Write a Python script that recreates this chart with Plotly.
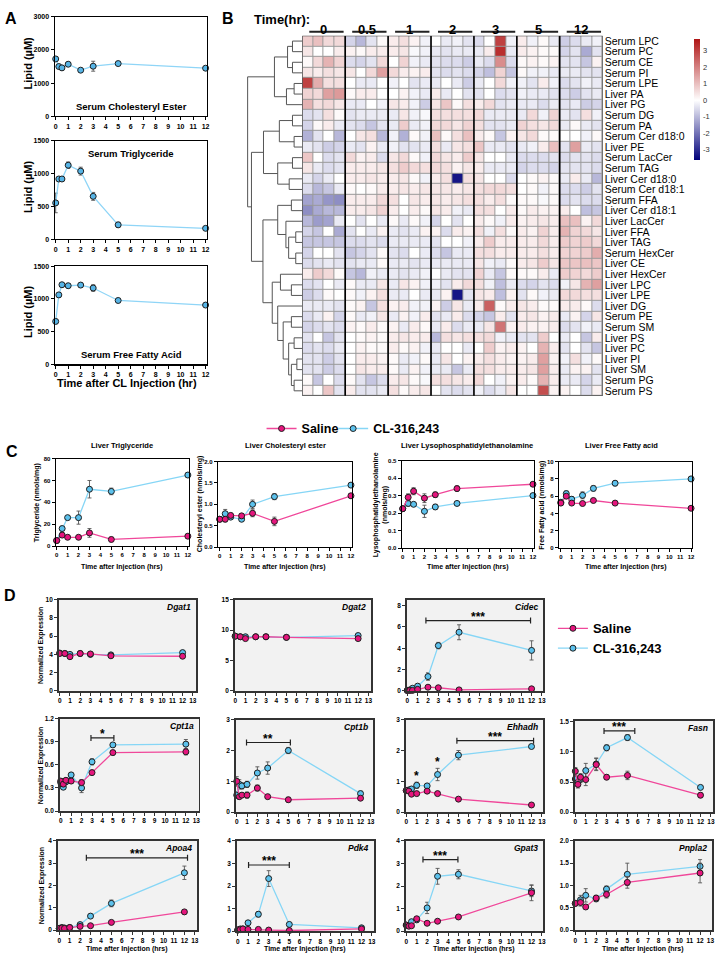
import plotly.graph_objects as go

W, H = 722, 959
FONT = "Arial, Liberation Sans, sans-serif"

# ---------------- Panel A data ----------------
a_time = [0, 0.25, 0.5, 1, 2, 3, 5, 12]
a_ce = [1730, 1500, 1460, 1570, 1390, 1510, 1590, 1450]
a_ce_err = [50, 40, 70, 50, 40, 150, 40, 50]
a_tg = [555, 920, 920, 1130, 1040, 655, 220, 167]
a_tg_err = [150, 30, 30, 50, 60, 60, 40, 20]
a_ffa = [655, 1060, 1215, 1200, 1210, 1165, 975, 905]
a_ffa_err = [20, 30, 30, 30, 25, 50, 25, 20]

# ---------------- Panel B data ----------------
hm_groups = ["0", "0.5", "1", "2", "3", "5", "12"]
hm_rows = ["Serum LPC", "Serum PC", "Serum CE", "Serum PI", "Serum LPE", "Liver PA", "Liver PG",
           "Serum DG", "Serum PA", "Serum Cer d18:0", "Liver PE", "Serum LacCer", "Serum TAG",
           "Liver Cer d18:0", "Serum Cer d18:1", "Serum FFA", "Liver Cer d18:1", "Liver LacCer",
           "Liver FFA", "Liver TAG", "Serum HexCer", "Liver CE", "Liver HexCer", "Liver LPC",
           "Liver LPE", "Liver DG", "Serum PE", "Serum SM", "Liver PS", "Liver PC", "Liver PI",
           "Liver SM", "Serum PG", "Serum PS"]
hm_values = [
    [0.8, 1.0, 0.6, 0.6, -0.6, -1.0, -0.4, 0.1, 0.3, 0.5, 0.2, -0.2, 0, -0.3, -0.2, -0.4, -0.5, 0, 3.0, -0.2, 0.3, -0.2, 0.1, -0.3, -0.7, -0.5, -0.3, -0.2],
    [0.4, 0, 0, 0.3, 0.2, 0.1, 0.3, 0.3, 0.3, 0.4, -0.1, -0.2, -0.3, -0.4, -0.3, -0.3, -0.3, 0.3, 3.3, -0.3, 0.3, 0.2, 0.1, 0.1, -0.6, -0.4, -1.2, -0.4],
    [0.1, 0.6, 1.2, 0.7, -0.5, -0.6, -0.4, 0.6, 0, 0.7, -0.2, -0.3, -0.4, -0.5, -0.5, -0.7, -0.3, -0.5, 1.8, -0.5, 0.1, 0.2, 0.1, 0.2, -0.4, -0.4, -0.8, 0.2],
    [0.4, 0.3, 0.5, 0.4, 0.4, 0, 0.6, 1.5, 0.6, 0.3, 0.2, 0.3, -0.4, -0.5, -0.4, -0.5, -0.6, -0.9, 0.7, -0.8, 0.1, -0.2, -0.2, -0.3, -0.3, -0.3, -0.4, -0.4],
    [3.0, 1.3, 0.5, 0.5, 0, -0.3, -0.3, 0, -0.2, 0, -0.4, -0.3, -0.3, 0, -0.3, -0.7, -0.3, 0, 0.6, -0.2, -0.2, -0.4, 0.3, -0.2, -0.5, -0.4, -0.2, -0.3],
    [0.7, 0.6, 1.5, 1.6, 0.1, 0.3, 0.3, 0, 0, 0.2, -0.2, -0.3, 0.3, -0.3, 0, -0.4, -0.4, 0, -0.5, -0.4, -0.2, -0.3, -0.3, -0.4, -0.5, -0.7, -0.4, -0.3],
    [1.2, 0.5, 0.6, 0.4, -0.3, -0.3, 0, -0.2, 0.4, 0.3, -0.2, -0.7, 0.4, 0.9, 0.1, 0.5, 0.3, 0.6, -0.4, -0.3, -0.3, -0.3, -0.5, -0.3, -0.4, -0.3, -0.7, -0.6],
    [-0.5, -0.4, 0.5, 0.1, -0.4, -0.3, -0.3, -0.3, -0.3, 0.4, -0.2, -0.1, 0.5, 0.5, 0.5, 0.5, 0.6, -0.3, -0.3, -0.3, -0.3, 0.6, -0.2, 0.7, -0.3, -0.4, 0.5, -0.2],
    [-0.6, 0.1, 0.3, -0.3, -0.4, -0.5, -0.8, -0.4, -0.3, 0.8, -0.3, -0.2, 0.6, 0.6, 0.4, 0.7, 0.5, -0.4, -0.4, -0.3, 0.7, 0.5, 0.4, 0.6, -0.3, 0.1, -0.3, -0.4],
    [-1.1, -0.4, 0, -1.0, 0, 0.4, 0.5, -1.0, -0.2, -1.1, 0.1, -0.2, 1.0, 0.1, 0.5, 1.0, 0.3, 0.1, -0.8, 0.2, 0.4, 0.6, 0.1, 0.1, 0, 0, -0.2, 0.1],
    [-0.3, -0.4, -0.7, -0.6, -0.3, -0.4, 0.2, -0.3, -0.2, -0.4, -0.4, -0.3, 0.5, -0.3, 0.4, 0.5, 0.9, -0.3, -0.3, -0.4, -0.3, -0.2, 0.3, 1.0, -0.4, 1.5, -0.3, -0.4],
    [0.9, 0, -0.5, -0.4, 0.6, 0.2, 0.3, -0.5, 0.4, 0.6, 0.1, -0.2, 0.6, 0.4, 0.3, 0.8, 0.4, 0, 0, -0.3, -0.5, -0.5, -0.5, -0.4, -0.5, -0.4, -0.4, -0.5],
    [0.4, -0.3, -0.5, -0.4, 0.3, 0.3, 0.3, 0.4, 0.5, 0.8, 0.6, 0.5, 0.6, 0.5, 0.2, 0.4, 0.3, -0.3, -0.3, -0.3, -0.6, -0.5, -0.5, -0.6, -0.4, -0.4, -0.4, -0.5],
    [-0.3, -0.6, -0.3, 0, 0.3, 0.3, 0.4, 0.3, 0.3, 0.4, 0.1, -0.2, 0.3, 0.5, -3.3, 0.5, 0.4, 0, 0, -0.5, 0, 0.1, 0.2, 0.1, -0.3, 0.3, -0.3, -1.0],
    [-0.5, -1.0, -0.8, -0.3, 0.1, 0, 0.1, 0.3, 0.3, 0.4, 0.3, 0.4, 0.4, 0.4, 0.3, 0.4, 0.5, 0.6, 0.6, 0.5, 0, 0.1, -0.2, 0.1, -0.5, -0.5, -0.7, -0.4],
    [-1.3, -1.2, -1.5, -1.6, 0.3, 0.3, 0.3, 0.6, 0.5, 0, 0.4, 0.3, 0.4, 0.3, 0.4, 0.5, 0.5, 0.3, 0.5, 0.1, 0.1, 0.1, -0.1, 0.1, -0.5, -0.4, -0.5, -0.5],
    [-1.6, -1.2, -1.0, -1.0, 0.3, 0.3, 0.4, 0.7, 0.3, 0, 0.3, 0.1, 0.4, 0.3, -0.2, -0.3, 0.5, 0.5, 0, 0.3, 0.1, 0.3, 0.2, 0.2, 0.3, 0, -0.9, -0.8],
    [-1.0, -1.4, -1.3, -0.3, 0, -0.4, 0, -0.3, 0.1, -0.3, 0.1, -0.2, -0.6, 0, -0.4, 0, 0.3, 0.1, -0.2, 0.3, 0.2, 0.3, 0.4, 0.3, 1.0, 1.0, 0.2, 0.6],
    [-0.6, -0.8, 0, -1.2, -0.4, 0, -0.3, 0.2, -0.3, -0.4, -0.3, 0.2, 0.2, -0.5, 0.3, 0.2, 0.5, -0.2, 0.5, 0.1, 0.3, 0.2, 0.7, 0.3, 1.2, 0.7, 0.6, 0.4],
    [-0.8, -0.8, -0.8, -0.8, -0.5, -0.5, -0.4, -0.5, -0.3, -0.3, -0.3, -0.3, -0.4, 0, 0, -0.2, 0.3, 0.8, 0.3, 0.3, 0.3, 0.3, 0.6, 0.3, 0.8, 0.7, 0.8, 0.6],
    [-0.6, 0, 0, -0.4, -0.8, -0.6, -0.4, 0.1, -0.4, -0.5, 0, -0.3, -0.5, -0.8, -0.3, -0.3, 0.5, 0.5, 0.3, 0.3, 0.3, 0.3, 0.5, 0.3, 0.7, 0.7, 0.8, 1.3],
    [-0.5, -0.4, -0.3, -0.4, -0.4, -0.3, -0.3, 0.1, -0.3, -0.3, -0.4, -0.3, -0.3, -0.3, -0.3, -0.3, 0.4, -0.2, -0.3, 0.1, 0.3, 0.4, 0.8, 0.4, 0.9, 0.9, 1.0, 0.9],
    [0.3, 0.8, 0.6, 0.1, -0.8, -1.0, -0.2, -0.3, -0.3, -0.4, -0.3, -0.2, 0, -0.3, -0.4, -0.4, 0.7, -0.3, -0.8, 0.1, 0.1, 0.1, 0.3, -0.3, 0.8, 0.7, 0.6, 0.8],
    [-0.5, -0.4, 0, -0.3, 0.1, -0.3, -0.3, 0.4, -0.3, 0.4, 0.2, -0.2, -0.2, -0.4, 0.3, 0.6, 0.5, -0.2, -0.9, -0.3, -0.5, -0.6, -0.4, -0.5, -0.2, 0.4, 1.2, 1.5],
    [-0.7, -0.5, 0.1, 0, 0.1, -0.2, 0.2, 0.5, -0.3, -0.3, 0, -0.3, -0.3, 0.2, -3.3, -0.4, 0.4, 0.3, -0.9, 0.2, -0.4, 0.1, -0.2, -0.3, 0.6, 0.6, 0.5, 0.5],
    [-0.3, -0.3, -0.3, -0.4, 0.1, 0.2, -0.8, 0.5, 0.2, 0.3, -0.2, -0.2, 0.2, -0.7, 0.4, -0.3, 0.3, 2.5, 0.1, 0.3, 0.4, 0.3, 0.1, 0.1, 0.3, 0.3, 0.1, -0.5],
    [-0.5, -0.3, 0.2, -0.6, 0.1, -0.3, -0.2, 0.4, -0.3, 0.2, -0.2, 0.3, -0.4, -0.3, 0.3, -0.5, -0.6, -0.8, 0.3, -0.4, 0.3, 0.4, 0.2, 0.3, -0.3, 0.2, -0.6, 0.4],
    [-0.6, -0.5, -0.4, -0.5, 0.2, 0.1, 0.3, 0.1, 0.2, -0.3, 0.3, 0.1, -0.3, 0.3, -0.5, -0.3, -0.3, 0.4, 2.2, 0.2, 0.3, 0.2, 0.2, 0.3, -0.5, -0.4, -0.2, -0.3],
    [-0.4, 0, -0.8, -0.4, 0, 0.1, 0.2, 0.1, 0.3, 0.4, 0.3, 0.3, -1.0, 0.5, 0.4, 0.5, 0.5, 0.6, -0.2, -0.3, -0.4, -0.4, 0.8, 0, -0.3, 0, -0.8, 0.3],
    [-0.5, -0.4, -0.5, -0.3, 0, 0.2, 0.1, 0.1, 0.3, 0.1, 0.2, -0.2, -0.3, 0, 0, -0.3, 0, 0.8, 0.2, 0.3, 0.2, 0, 1.2, 0.3, -0.4, 0, -0.4, -0.8],
    [-0.4, -0.4, -0.7, -0.4, 0, 0.3, 0.3, 0.2, 0.1, -0.3, -0.2, 0.1, -0.3, 0.4, 0, 0.2, 0.3, 0.5, 0.3, 0.2, 0.2, 0.3, 1.5, 0.2, -0.2, 0.5, -0.2, 0.1],
    [-0.4, -0.4, -0.7, -0.5, 0, 0.4, 0.3, 0.3, 0.1, -0.3, 0.2, -0.2, -0.3, -0.3, -0.8, -0.3, 0.5, 0.5, 0.3, 0.3, 0.3, 0.4, 1.5, 0.3, -0.3, 0.2, 0.2, -0.4],
    [0.1, -0.8, 0, -0.5, 0.1, -0.4, -0.8, -0.5, 0.3, 0.4, 0.1, -0.1, 0.5, 0.5, 0.4, 0.3, 0.6, 0, -0.2, 0.2, 0.3, 0.1, 1.2, 0.3, -0.3, -0.3, -0.6, -0.3],
    [0.2, 0, 0.9, -0.4, 0.3, -0.4, -0.4, -0.3, 0.5, 0.1, 0.3, 0.4, 0, -0.4, -0.5, -0.4, -0.2, -0.5, -0.3, 0.4, 0, 0, 2.8, 0.2, 0.2, 0, -0.5, 0.2],
]
# dendrogram: node = leaf row index or [left, right, merge height]
dendro_top = [[[0, 1, 0.18], [2, 3, 0.18], 0.27], [[4, 5, 0.15], 6, 0.29], 0.51]
dendro_mid = [[[7, 8, 0.18], [9, 10, 0.15], 0.42], [[11, 12, 0.18], [13, 14, 0.24], 0.45], 0.71]
dendro_low = [[[15, 16, 0.2], [17, [[18, 19, 0.12], [20, 21, 0.12], 0.25], 0.3], 0.45],
              [[22, [23, 24, 0.2], 0.4],
               [25, [[26, 27, 0.2], [[28, 29, 0.15], [[30, 31, 0.1], [32, 33, 0.15], 0.2], 0.25], 0.35], 0.45],
               0.55], 0.72]
dendro_tree = [dendro_top, [dendro_mid, dendro_low, 0.93], 1.0]
cbar_ticks = [-3, -2, -1, 0, 1, 2, 3]

# ---------------- Panel C data ----------------
c_time = [0, 0.5, 1, 2, 3, 5, 12]
c_tg_cl = [5, 16, 26, 26, 52, 50, 65]
c_tg_cl_err = [1, 2, 1, 6, 8, 3, 2]
c_tg_sal = [5, 10, 8, 8, 12, 6, 9]
c_tg_sal_err = [1, 2, 1, 1, 4, 2, 2]
c_ce_cl = [0.65, 0.78, 0.70, 0.65, 1.0, 1.18, 1.45]
c_ce_cl_err = [0.03, 0.1, 0.04, 0.04, 0.1, 0.07, 0.03]
c_ce_sal = [0.65, 0.65, 0.74, 0.73, 0.79, 0.60, 1.2]
c_ce_sal_err = [0.03, 0.06, 0.05, 0.05, 0.08, 0.1, 0.05]
c_lpe_cl = [0.225, 0.255, 0.25, 0.21, 0.235, 0.255, 0.30]
c_lpe_cl_err = [0.01, 0.015, 0.01, 0.035, 0.015, 0.01, 0.01]
c_lpe_sal = [0.225, 0.29, 0.325, 0.285, 0.305, 0.34, 0.365]
c_lpe_sal_err = [0.01, 0.02, 0.02, 0.025, 0.015, 0.015, 0.01]
c_ffa_cl = [5.3, 6.3, 5.65, 6.1, 6.9, 7.5, 8.0]
c_ffa_cl_err = [0.2, 0.3, 0.3, 0.4, 0.3, 0.3, 0.2]
c_ffa_sal = [5.2, 6.0, 5.2, 5.15, 5.5, 5.2, 4.6]
c_ffa_sal_err = [0.2, 0.2, 0.15, 0.15, 0.2, 0.15, 0.1]

# ---------------- Panel D data ----------------
d_t7 = [0, 0.5, 1, 2, 3, 5, 12]
d_t8 = [0, 0.25, 0.5, 1, 2, 3, 5, 12]
genes = ["Dgat1", "Dgat2", "Cidec", "Cpt1a", "Cpt1b", "Ehhadh", "Fasn", "Apoa4", "Pdk4", "Gpat3", "Pnpla2"]
d_sal = {
    "Dgat1": [4.1, 4.1, 3.75, 4.1, 4.05, 3.85, 3.8],
    "Dgat2": [9.0, 8.9, 8.6, 8.9, 8.9, 8.8, 8.6],
    "Cidec": [0.05, 0.05, 0.05, 0.15, 0.35, 0.3, 0.1, 0.2],
    "Cpt1a": [0.39, 0.35, 0.40, 0.39, 0.37, 0.50, 0.76, 0.77],
    "Cpt1b": [1.0, 0.5, 0.55, 0.55, 0.78, 0.5, 0.4, 0.45],
    "Ehhadh": [0.7, 0.68, 0.58, 0.6, 0.68, 0.6, 0.42, 0.23],
    "Fasn": [0.68, 0.46, 0.58, 0.54, 0.79, 0.58, 0.61, 0.28],
    "Apoa4": [0.08, 0.1, 0.08, 0.12, 0.17, 0.2, 0.35, 0.82],
    "Pdk4": [0.05, 0.07, 0.1, 0.08, 0.08, 0.05, 0.03, 0.1],
    "Gpat3": [0.27, 0.22, 0.24, 0.55, 0.35, 0.44, 0.63, 1.7],
    "Pnpla2": [0.6, 0.62, 0.52, 0.72, 0.8, 1.07, 1.28],
}
d_sal_err = {
    "Dgat1": [0.1] * 7, "Dgat2": [0.15] * 7,
    "Cidec": [0.02, 0.02, 0.02, 0.05, 0.1, 0.08, 0.05, 0.08],
    "Cpt1a": [0.03, 0.03, 0.03, 0.03, 0.04, 0.03, 0.03, 0.04],
    "Cpt1b": [0.15, 0.08, 0.08, 0.1, 0.1, 0.05, 0.08, 0.05],
    "Ehhadh": [0.05, 0.05, 0.05, 0.05, 0.05, 0.05, 0.04, 0.03],
    "Fasn": [0.06, 0.06, 0.06, 0.1, 0.1, 0.04, 0.07, 0.04],
    "Apoa4": [0.02, 0.02, 0.02, 0.02, 0.03, 0.03, 0.04, 0.08],
    "Pdk4": [0.02] * 8,
    "Gpat3": [0.05, 0.04, 0.04, 0.08, 0.05, 0.05, 0.07, 0.35],
    "Pnpla2": [0.04, 0.08, 0.04, 0.06, 0.08, 0.13, 0.22],
}
d_cl = {
    "Dgat1": [4.15, 4.1, 4.0, 4.1, 4.0, 3.95, 4.2],
    "Dgat2": [9.0, 8.9, 8.9, 8.9, 8.9, 8.8, 9.1],
    "Cidec": [0.05, 0.1, 0.25, 0.45, 1.35, 4.25, 5.5, 3.8],
    "Cpt1a": [0.37, 0.31, 0.38, 0.47, 0.30, 0.64, 0.86, 0.87],
    "Cpt1b": [0.55, 0.9, 0.85, 0.9, 1.27, 1.43, 2.0, 0.6],
    "Ehhadh": [0.7, 0.72, 0.75, 0.87, 0.85, 1.22, 1.85, 2.13],
    "Fasn": [0.55, 0.5, 0.55, 0.69, 0.8, 1.07, 1.24, 0.41],
    "Apoa4": [0.08, 0.12, 0.1, 0.12, 0.25, 0.63, 1.2, 2.57],
    "Pdk4": [0.05, 0.1, 0.1, 0.37, 0.75, 2.33, 0.3, 0.15],
    "Gpat3": [0.27, 0.25, 0.42, 0.5, 1.03, 2.43, 2.52, 1.78],
    "Pnpla2": [0.6, 0.68, 0.78, 0.7, 0.92, 1.25, 1.43],
}
d_cl_err = {
    "Dgat1": [0.1] * 7, "Dgat2": [0.15] * 7,
    "Cidec": [0.02, 0.05, 0.05, 0.1, 0.35, 0.3, 0.7, 0.9],
    "Cpt1a": [0.03, 0.03, 0.03, 0.03, 0.06, 0.04, 0.02, 0.06],
    "Cpt1b": [0.1, 0.15, 0.1, 0.1, 0.2, 0.2, 0.1, 0.08],
    "Ehhadh": [0.05, 0.05, 0.05, 0.1, 0.06, 0.2, 0.15, 0.05],
    "Fasn": [0.06, 0.06, 0.06, 0.12, 0.1, 0.05, 0.05, 0.03],
    "Apoa4": [0.02, 0.02, 0.02, 0.02, 0.03, 0.05, 0.15, 0.3],
    "Pdk4": [0.02, 0.03, 0.03, 0.05, 0.12, 0.35, 0.04, 0.03],
    "Gpat3": [0.05, 0.04, 0.06, 0.1, 0.25, 0.35, 0.2, 0.25],
    "Pnpla2": [0.04, 0.1, 0.15, 0.06, 0.07, 0.25, 0.15],
}
d_sig = {
    "Cidec": [(1.8, 11.9, 6.6, "***")],
    "Cpt1a": [(2.9, 5.1, 0.95, "*")],
    "Cpt1b": [(0.95, 5.2, 2.26, "**")],
    "Ehhadh": [(4.85, 12.2, 2.32, "***")],
    "Fasn": [(2.75, 5.7, 1.35, "***")],
    "Apoa4": [(2.6, 12.3, 3.24, "***")],
    "Pdk4": [(1.05, 5.0, 2.93, "***")],
    "Gpat3": [(1.6, 4.95, 3.17, "***")],
}
d_single_star = {"Ehhadh": [(1.0, 1.05, "*"), (3.0, 1.5, "*")]}

# ---------------- styling ----------------
SAL_LINE, SAL_FILL = "#F0479A", "#E5157D"
CL_LINE, CL_FILL = "#86D6F6", "#5CC1EC"

fig = go.Figure()
layout = {}
shapes = []
annotations = []


def xr(n):
    return "x" if n == 1 else f"x{n}"


def yr(n):
    return "y" if n == 1 else f"y{n}"


def xk(n):
    return "xaxis" if n == 1 else f"xaxis{n}"


def yk(n):
    return "yaxis" if n == 1 else f"yaxis{n}"


def dom_x(l, r):
    return [l / W, r / W]


def dom_y(t, b):
    return [1 - b / H, 1 - t / H]


def text(x, y, s, size, bold=True, italic=False, angle=0, xanchor="center", yanchor="middle",
         xref="paper", yref="paper", color="black"):
    if xref == "paper":
        x = x / W
    if yref == "paper":
        y = 1 - y / H
    annotations.append(dict(x=x, y=y, xref=xref, yref=yref, text=s, showarrow=False,
                            textangle=angle, xanchor=xanchor, yanchor=yanchor,
                            font=dict(family=FONT, size=size, color=color,
                                      weight="bold" if bold else "normal",
                                      style="italic" if italic else "normal")))


def make_axes(n, xd, yd, xrange, yrange, xtick, ytick, tsize, lc="black", lw=1.2, fmt=None):
    tf = dict(family=FONT, size=tsize, color="black", weight="bold")
    layout[xk(n)] = dict(domain=dom_x(*xd), range=xrange, anchor=yr(n), tickvals=xtick,
                         ticks="outside", ticklen=3, tickwidth=1, tickcolor=lc, showline=True,
                         linecolor=lc, linewidth=lw, mirror=True, showgrid=False, zeroline=False,
                         tickfont=tf, fixedrange=True)
    ya = dict(domain=dom_y(*yd), range=yrange, anchor=xr(n), tickvals=ytick,
              ticks="outside", ticklen=3, tickwidth=1, tickcolor=lc, showline=True,
              linecolor=lc, linewidth=lw, mirror=True, showgrid=False, zeroline=False,
              tickfont=tf, fixedrange=True)
    if fmt:
        ya["tickformat"] = fmt
    layout[yk(n)] = ya


def series(n, x, y, err, lcol, fcol, name=None, legend=None, show=False, size=6):
    fig.add_trace(go.Scatter(
        x=x, y=y, mode="lines+markers", xaxis=xr(n), yaxis=yr(n),
        line=dict(color=lcol, width=1.3),
        marker=dict(size=size, color=fcol, line=dict(color="#1e1e1e", width=1)),
        error_y=dict(type="data", array=err, color="#555555", thickness=0.9, width=2),
        name=name, showlegend=show, legend=legend or "legend",
        hoverinfo="skip", cliponaxis=False))


# ---------------- Panel A ----------------
a_panels = [
    (1, a_ce, a_ce_err, (13, 113), [0, 3000], [0, 1000, 2000, 3000], "Serum Cholesteryl Ester", 103),
    (2, a_tg, a_tg_err, (138, 237), [0, 1500], [0, 500, 1000, 1500], "Serum Triglyceride", 151),
    (3, a_ffa, a_ffa_err, (264, 363), [0, 1500], [0, 500, 1000, 1500], "Serum Free Fatty Acid", 353),
]
for n, vals, errs, yd, yrng, yt, title, ty in a_panels:
    make_axes(n, (54, 207), yd, [-0.08, 12.1], yrng, list(range(13)), yt, 7)
    series(n, a_time, vals, errs, "#8FD5F7", "#56B4E6", size=6)
    text(131, ty, title, 9.5)
    text(27, (yd[0] + yd[1]) / 2 - 3, "Lipid (\u00b5M)", 11, angle=-90)
text(127, 382, "Time after CL Injection (hr)", 11)

# ---------------- Panel B ----------------
n_cols = len(hm_groups) * 4
n_rows = len(hm_rows)
layout["xaxis4"] = dict(domain=dom_x(303, 605), range=[-0.5, n_cols - 0.5], anchor="y4",
                        visible=False, fixedrange=True)
layout["yaxis4"] = dict(domain=dom_y(32, 395), range=[n_rows - 0.5, -0.5], anchor="x4",
                        side="right", tickvals=list(range(n_rows)), ticktext=hm_rows, ticks="",
                        showline=False, showgrid=False, zeroline=False, ticklabelstandoff=1,
                        tickfont=dict(family=FONT, size=10.5, color="black"), fixedrange=True)
shapes.append(dict(type="rect", xref="x4", yref="y4", x0=-0.5, x1=n_cols - 0.5, y0=-0.5,
                   y1=n_rows - 0.5, fillcolor="#9a9a9a", line=dict(width=0), layer="below"))
zmin, zmax = -3.6, 3.7
mid = (0 - zmin) / (zmax - zmin)
fig.add_trace(go.Heatmap(
    z=hm_values, x=list(range(n_cols)), y=list(range(n_rows)), xaxis="x4", yaxis="y4",
    zmin=zmin, zmax=zmax, xgap=1, ygap=1, hoverinfo="skip",
    colorscale=[[0, "#00007A"], [mid, "#FFFFFF"], [1, "#B01515"]],
    colorbar=dict(x=697 / W, xanchor="left", xpad=0, ypad=0, y=1 - 35 / H, yanchor="top",
                  len=122 / H, lenmode="fraction", thickness=6, outlinewidth=0,
                  ticks="outside", ticklen=2, tickcolor="white", showticklabels=True,
                  tickvals=cbar_ticks, ticktext=[str(v) for v in cbar_ticks],
                  tickfont=dict(family=FONT, size=7.5, color="#333333"))))
for g in range(1, len(hm_groups)):
    shapes.append(dict(type="line", xref="x4", yref="y4", x0=4 * g - 0.5, x1=4 * g - 0.5,
                       y0=-0.5, y1=n_rows - 0.5, line=dict(color="black", width=1.6)))
shapes.append(dict(type="rect", xref="x4", yref="y4", x0=-0.5, x1=n_cols - 0.5, y0=-0.5,
                   y1=n_rows - 0.5, line=dict(color="#333333", width=1.2)))
for g, lab in enumerate(hm_groups):
    annotations.append(dict(x=4 * g + 1.5, y=1 - 16 / H, xref="x4", yref="paper", text=lab,
                            showarrow=False, font=dict(family=FONT, size=13, color="black",
                                                       weight="bold")))
    shapes.append(dict(type="line", xref="x4", yref="paper", x0=4 * g + 0.15, x1=4 * g + 3.35,
                       y0=1 - 28 / H, y1=1 - 28 / H, line=dict(color="#222222", width=2)))
text(252, 16, "Time(hr):", 13, xanchor="left")

# dendrogram
layout["xaxis5"] = dict(domain=dom_x(244, 303), range=[1.073, 0], anchor="y5", visible=False,
                        fixedrange=True)
layout["yaxis5"] = dict(domain=dom_y(32, 395), range=[n_rows - 0.5, -0.5], anchor="x5",
                        visible=False, fixedrange=True)
dx, dy = [], []


def walk(node):
    if isinstance(node, int):
        return 0.0, float(node)
    hl, yl = walk(node[0])
    hr_, yr_ = walk(node[1])
    h = node[2]
    dx.extend([hl, h, h, hr_, None])
    dy.extend([yl, yl, yr_, yr_, None])
    return h, (yl + yr_) / 2


walk(dendro_tree)
fig.add_trace(go.Scatter(x=dx, y=dy, mode="lines", xaxis="x5", yaxis="y5",
                         line=dict(color="#555555", width=1), showlegend=False,
                         hoverinfo="skip"))

# ---------------- Panel C ----------------
c_panels = [
    (6, (55, 189), (458, 546), [-0.09, 12.1], [0, 80], [0, 20, 40, 60, 80], None,
     c_tg_sal, c_tg_sal_err, c_tg_cl, c_tg_cl_err, "Liver Triglyceride", 122,
     "Triglyceride (nmols/mg)", 37),
    (7, (218, 353), (461, 547), [-0.18, 12.1], [0, 2], [0, 0.5, 1, 1.5, 2], ".1f",
     c_ce_sal, c_ce_sal_err, c_ce_cl, c_ce_cl_err, "Liver Cholesteryl ester", 286,
     "Cholesteryl ester (nmols/mg)", 200),
    (8, (403, 536), (460, 548), [-0.09, 12.1], [0, 0.5], [0, 0.1, 0.2, 0.3, 0.4, 0.5], ".1f",
     c_lpe_sal, c_lpe_sal_err, c_lpe_cl, c_lpe_cl_err, "Liver Lysophosphatidylethanolamine", 469,
     "Lysophosphatidylethanolamine<br>(nmols/mg)", 381),
    (9, (561, 695), (461, 548), [-0.18, 12.1], [0, 10], [0, 2, 4, 6, 8, 10], None,
     c_ffa_sal, c_ffa_sal_err, c_ffa_cl, c_ffa_cl_err, "Liver Free Fatty acid", 624,
     "Free Fatty acid (nmols/mg)", 544),
]
for i, (n, xd, yd, xrng, yrng, yt, fmt, sv, se, cv, ce, title, tx, ytitle, ytx) in enumerate(c_panels):
    make_axes(n, xd, yd, xrng, yrng, list(range(13)), yt, 6, lw=1.1, fmt=fmt)
    first = i == 0
    series(n, c_time, cv, ce, CL_LINE, CL_FILL, name="CL-316,243", legend="legend3", show=first)
    series(n, c_time, sv, se, SAL_LINE, SAL_FILL, name="Saline", legend="legend", show=first)
    text(tx, 445, title, 7.5)
    text((xd[0] + xd[1]) / 2, 567, "Time after Injection (hrs)", 7)
    text(ytx, (yd[0] + yd[1]) / 2, ytitle, 7, angle=-90)

# ---------------- Panel D ----------------
d_layout = {
    "Dgat1": (10, (58, 196), (600, 692), [-0.1, 13.3], [0, 10], [0, 2, 4, 6, 8, 10], None),
    "Dgat2": (11, (235, 372), (600, 692), [-0.05, 13.25], [0, 15], [0, 5, 10, 15], None),
    "Cidec": (12, (408, 545), (600, 692), [-0.05, 13.1], [0, 8.56], [0, 2, 4, 6, 8], None),
    "Cpt1a": (13, (59, 199), (720, 813), [-0.1, 13.25], [0, 1.2], [0, 0.3, 0.6, 0.9, 1.2], ".1f"),
    "Cpt1b": (14, (236, 374), (721, 814), [-0.1, 13.2], [0, 3], [0, 1, 2, 3], None),
    "Ehhadh": (15, (407, 545), (721, 814), [-0.05, 13.1], [0, 3], [0, 1, 2, 3], None),
    "Fasn": (16, (577, 716), (722, 814), [-0.05, 13.2], [0, 1.52], [0, 0.5, 1, 1.5], ".1f"),
    "Apoa4": (17, (57, 197), (843, 933), [-0.15, 13.2], [0, 4], [0, 1, 2, 3, 4], None),
    "Pdk4": (18, (237, 375), (843, 934), [-0.1, 13.2], [0, 4], [0, 1, 2, 3, 4], None),
    "Gpat3": (19, (407, 545), (843, 934), [-0.05, 13.1], [0, 4], [0, 1, 2, 3, 4], None),
    "Pnpla2": (20, (577, 715), (843, 933), [-0.05, 13.15], [0, 2], [0, 0.5, 1, 1.5, 2], ".1f"),
}
for gi, gene in enumerate(genes):
    n, xd, yd, xrng, yrng, yt, fmt = d_layout[gene]
    make_axes(n, xd, yd, xrng, yrng, list(range(14)), yt, 6.5, lc="#333333", lw=1.6, fmt=fmt)
    shapes.append(dict(type="rect", xref=f"x{n} domain", yref=f"y{n} domain", x0=0, x1=1,
                       y0=0, y1=1, fillcolor="#F2F2F2", line=dict(width=0), layer="below"))
    t = d_t7 if len(d_sal[gene]) == 7 else d_t8
    first = gi == 0
    series(n, t, d_cl[gene], d_cl_err[gene], CL_LINE, CL_FILL, name="CL-316,243",
           legend="legend2", show=first)
    series(n, t, d_sal[gene], d_sal_err[gene], SAL_LINE, SAL_FILL, name="Saline",
           legend="legend2", show=first)
    text(xd[1] - 3, yd[0] + 7, gene, 8.5, italic=True, xanchor="right")
    ppu = (yd[1] - yd[0]) / (yrng[1] - yrng[0])
    cap = 3.0 / ppu
    for (x0, x1, yb, lab) in d_sig.get(gene, []):
        fig.add_trace(go.Scatter(x=[x0, x0, None, x0, x1, None, x1, x1],
                                 y=[yb - cap, yb + cap, None, yb, yb, None, yb - cap, yb + cap],
                                 mode="lines", xaxis=xr(n), yaxis=yr(n),
                                 line=dict(color="#222222", width=1.2), showlegend=False,
                                 hoverinfo="skip"))
        annotations.append(dict(x=(x0 + x1) / 2, y=yb, xref=xr(n), yref=yr(n), text=lab,
                                showarrow=False, yanchor="bottom", yshift=-5,
                                font=dict(family=FONT, size=12, color="black", weight="bold")))
    for (xs, ys, lab) in d_single_star.get(gene, []):
        annotations.append(dict(x=xs, y=ys, xref=xr(n), yref=yr(n), text=lab,
                                showarrow=False, yanchor="bottom", yshift=-5,
                                font=dict(family=FONT, size=12, color="black", weight="bold")))

for yc in (646, 767, 888):
    text(41, yc, "Normalized Expression", 7, angle=-90)
for gene in ["Apoa4", "Pdk4", "Gpat3", "Pnpla2"]:
    n, xd, yd = d_layout[gene][:3]
    text((xd[0] + xd[1]) / 2, 952, "Time after Injection (hrs)", 7)

# panel letters
text(10, 15, "A", 16)
text(228, 15, "B", 16)
text(11, 451, "C", 16)
text(9, 596, "D", 16)

leg_font = dict(family=FONT, size=12.5, color="black", weight="bold")
layout.update(dict(
    width=W, height=H, margin=dict(l=0, r=0, t=0, b=0), paper_bgcolor="white",
    plot_bgcolor="white", font=dict(family=FONT, color="black"),
    shapes=shapes, annotations=annotations,
    legend=dict(orientation="h", x=262 / W, y=1 - 428 / H, xanchor="left", yanchor="middle",
                font=leg_font, bgcolor="rgba(0,0,0,0)", itemwidth=30),
    legend3=dict(orientation="h", x=334 / W, y=1 - 428 / H, xanchor="left", yanchor="middle",
                 font=leg_font, bgcolor="rgba(0,0,0,0)", itemwidth=30),
    legend2=dict(orientation="v", x=555 / W, y=1 - 639 / H, xanchor="left", yanchor="middle",
                 font=dict(family=FONT, size=13, color="black", weight="bold"),
                 bgcolor="rgba(0,0,0,0)", itemwidth=30, traceorder="reversed"),
))
fig.update_layout(**layout)
fig.write_html("out.html", config={"displayModeBar": False, "staticPlot": True},
               post_script="document.body.style.margin='0';"
                           "document.body.style.overflow='hidden';"
                           "document.documentElement.style.overflow='hidden';")
